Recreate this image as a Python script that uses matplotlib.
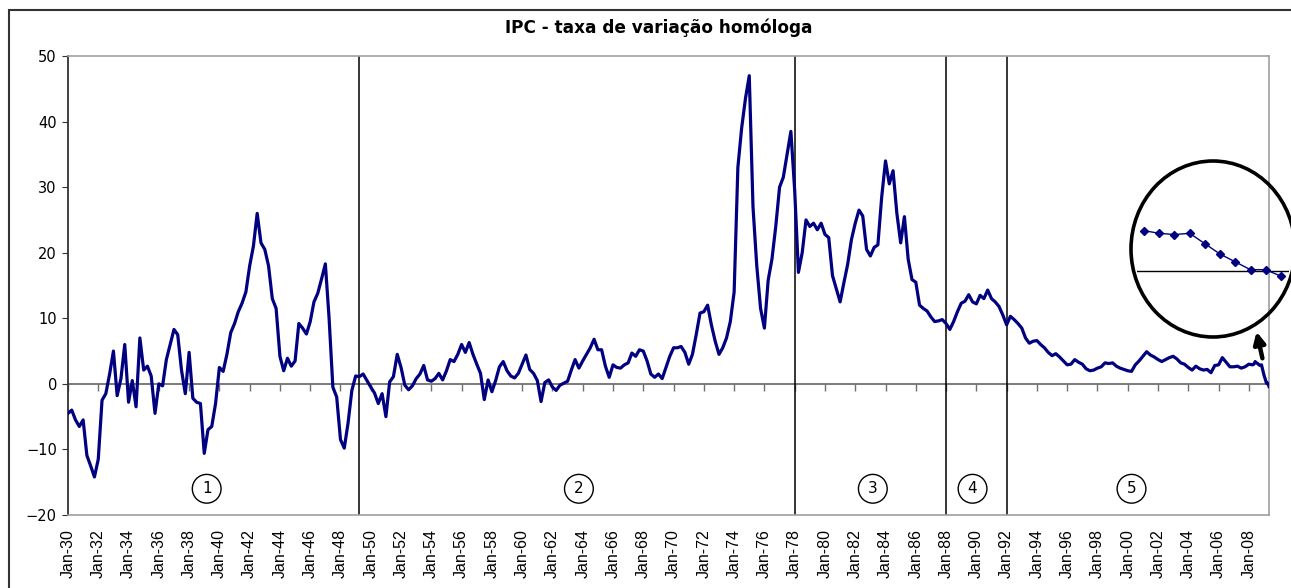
import numpy as np
import pandas as pd
import matplotlib
matplotlib.use("Agg")
import matplotlib.pyplot as plt
from matplotlib.patches import Ellipse, Rectangle

# IPC - taxa de variacao homologa (%), valores trimestrais (Jan, Abr, Jul, Out)
ipc_q = [
    -4.5, -4.0, -5.5, -6.5,    # 1930
    -5.5, -10.9, -12.5, -14.2,  # 1931
    -11.5, -2.5, -1.5, 1.5,    # 1932
    5.0, -1.8, 0.8, 6.0,       # 1933
    -2.8, 0.5, -3.5, 7.0,      # 1934
    2.1, 2.7, 1.2, -4.5,       # 1935
    0.0, -0.3, 3.7, 6.0,       # 1936
    8.3, 7.5, 2.1, -1.5,       # 1937
    4.8, -2.2, -2.8, -3.0,     # 1938
    -10.6, -7.0, -6.5, -3.0,   # 1939
    2.5, 1.9, 4.5, 7.8,        # 1940
    9.2, 11.0, 12.3, 14.0,     # 1941
    18.0, 21.0, 26.0, 21.5,    # 1942
    20.5, 18.0, 13.0, 11.5,    # 1943
    4.2, 2.0, 3.9, 2.7,        # 1944
    3.5, 9.2, 8.5, 7.6,        # 1945
    9.5, 12.5, 13.8, 16.0,     # 1946
    18.3, 10.0, -0.5, -2.0,    # 1947
    -8.5, -9.8, -6.0, -1.0,    # 1948
    1.2, 1.1, 1.5, 0.5,        # 1949
    -0.5, -1.4, -3.0, -1.5,    # 1950
    -5.0, 0.3, 1.1, 4.5,       # 1951
    2.5, -0.2, -0.9, -0.3,     # 1952
    0.8, 1.5, 2.8, 0.6,        # 1953
    0.4, 0.8, 1.6, 0.6,        # 1954
    2.0, 3.7, 3.4, 4.5,        # 1955
    6.0, 4.8, 6.3, 4.5,        # 1956
    3.0, 1.6, -2.4, 0.6,       # 1957
    -1.2, 0.5, 2.6, 3.4,       # 1958
    2.0, 1.2, 0.9, 1.6,        # 1959
    3.0, 4.4, 2.2, 1.6,        # 1960
    0.5, -2.7, 0.2, 0.6,       # 1961
    -0.5, -1.0, -0.2, 0.1,     # 1962
    0.4, 2.1, 3.7, 2.4,        # 1963
    3.5, 4.5, 5.5, 6.8,        # 1964
    5.2, 5.2, 2.7, 1.0,        # 1965
    2.9, 2.5, 2.4, 2.9,        # 1966
    3.2, 4.7, 4.2, 5.2,        # 1967
    5.0, 3.5, 1.5, 1.0,        # 1968
    1.5, 0.8, 2.5, 4.2,        # 1969
    5.5, 5.5, 5.7, 4.8,        # 1970
    3.0, 4.5, 7.5, 10.8,       # 1971
    11.0, 12.0, 9.0, 6.5,      # 1972
    4.5, 5.5, 7.0, 9.5,        # 1973
    14.0, 33.0, 39.0, 43.5,    # 1974
    47.0, 27.0, 18.0, 11.5,    # 1975
    8.5, 15.8, 19.0, 24.0,     # 1976
    30.0, 31.5, 35.0, 38.5,    # 1977
    29.5, 17.0, 20.0, 25.0,    # 1978
    24.0, 24.5, 23.5, 24.5,    # 1979
    22.8, 22.3, 16.5, 14.5,    # 1980
    12.5, 15.4, 18.2, 22.0,    # 1981
    24.5, 26.5, 25.6, 20.5,    # 1982
    19.5, 20.8, 21.2, 28.5,    # 1983
    34.0, 30.5, 32.5, 26.0,    # 1984
    21.5, 25.5, 19.0, 15.9,    # 1985
    15.5, 12.0, 11.5, 11.1,    # 1986
    10.2, 9.5, 9.6, 9.8,       # 1987
    9.2, 8.3, 9.5, 11.0,       # 1988
    12.3, 12.6, 13.6, 12.5,    # 1989
    12.2, 13.5, 13.0, 14.3,    # 1990
    13.0, 12.5, 11.8, 10.5,    # 1991
    9.0, 10.3, 9.8, 9.2,       # 1992
    8.5, 7.0, 6.2, 6.5,        # 1993
    6.6, 6.0, 5.5, 4.8,        # 1994
    4.3, 4.6, 4.1, 3.5,        # 1995
    2.9, 3.0, 3.7, 3.3,        # 1996
    3.0, 2.3, 2.0, 2.1,        # 1997
    2.4, 2.6, 3.2, 3.1,        # 1998
    3.2, 2.7, 2.4, 2.2,        # 1999
    2.0, 1.9, 2.9, 3.5,        # 2000
    4.2, 4.9, 4.4, 4.1,        # 2001
    3.7, 3.4, 3.7, 4.0,        # 2002
    4.2, 3.8, 3.2, 3.0,        # 2003
    2.5, 2.1, 2.7, 2.3,        # 2004
    2.1, 2.2, 1.7, 2.8,        # 2005
    2.9, 4.0, 3.3, 2.6,        # 2006
    2.6, 2.7, 2.4, 2.6,        # 2007
    3.0, 2.9,                  # 2008 (Jan, Abr)
]
# valores mensais Mai-2008 .. Mai-2009
ipc_m = [3.0, 3.4, 3.2, 3.1, 2.9, 2.8, 2.9, 2.1, 1.3, 0.7, 0.1, 0.1, -0.4]

dates_q = pd.date_range("1930-01-01", "2008-04-01", freq="QS")
dates_m = pd.date_range("2008-05-01", "2009-05-01", freq="MS")
dates = dates_q.append(dates_m)
ipc = np.array(ipc_q + ipc_m)

# quebras de regime e etiquetas
breaks = pd.to_datetime(["1949-04-01", "1978-01-01", "1988-01-01", "1992-01-01"])
regimes = ["1", "2", "3", "4", "5"]
regime_pos = pd.to_datetime(["1939-03-01", "1963-10-01", "1983-03-01",
                             "1989-10-01", "2000-04-01"])
tick_dates = pd.date_range("1930-01-01", "2008-01-01", freq="24MS")
tick_labels = [d.strftime("%b-%y") for d in tick_dates]
yticks = [-20, -10, 0, 10, 20, 30, 40, 50]
n_zoom = 10  # pontos mostrados na lupa

W, H = 1291, 588
fig = plt.figure(figsize=(W / 100, H / 100), dpi=100)
ax = fig.add_axes([68 / W, (H - 515) / H, (1269 - 68) / W, (515 - 56) / H])

ax.plot(dates, ipc, color="#000080", lw=2.3, zorder=3)
for b in breaks:
    ax.axvline(b, color="black", lw=1.1, zorder=2)

ax.set_xlim(dates[0], dates[-1])
ax.set_ylim(-20, 50)
ax.set_yticks(yticks)
ax.tick_params(axis="y", direction="out", length=4, color="#333333", labelsize=10.5, pad=4)
ax.set_xticks(tick_dates)
ax.set_xticklabels(tick_labels, rotation=90, fontsize=11.5, family="Liberation Sans")
ax.tick_params(axis="x", length=0, pad=10)

for s in ["top", "right", "bottom"]:
    ax.spines[s].set_color("#a0a0a0")
    ax.spines[s].set_linewidth(1.2)
ax.spines["left"].set_color("#333333")
ax.spines["left"].set_linewidth(1.3)

# eixo horizontal no zero com marcas
sec = ax.secondary_xaxis(20 / 70)
sec.set_xticks(tick_dates)
sec.set_xticklabels([""] * len(tick_dates))
sec.tick_params(axis="x", direction="out", length=5, color="#707070", width=1)
sec.spines["bottom"].set_color("#707070")
sec.spines["bottom"].set_linewidth(1.3)

for lab, d in zip(regimes, regime_pos):
    ax.text(d, -16, lab, ha="center", va="center", fontsize=11, zorder=4,
            bbox=dict(boxstyle="circle,pad=0.45", fc="white", ec="black", lw=1))

fig.text(658.5 / W, 1 - 28 / H, "IPC - taxa de variação homóloga", ha="center",
         va="center", fontsize=12.2, fontweight="bold")

# moldura exterior
fig.add_artist(Rectangle((9 / W, -0.05), 1.1, 1 - 10 / H + 0.05, transform=fig.transFigure,
                         fill=False, ec="#333333", lw=1.5))

# lupa com os ultimos meses
fig.add_artist(Ellipse((1213 / W, 1 - 249 / H), 164 / W, 176 / H, transform=fig.transFigure,
                       fill=False, ec="black", lw=2.6))
axz = fig.add_axes([1137 / W, (H - 300) / H, (1289 - 1137) / W, 90 / H])
axz.axhline(0, color="black", lw=1)
axz.plot(np.arange(n_zoom), ipc[-n_zoom:], color="#000080", lw=1, marker="D", ms=4.5)
axz.set_xlim(-0.46, 9.53)
axz.set_ylim(-2.23, 4.69)
axz.axis("off")

ax.annotate("", xy=(1256, H - 329), xytext=(1263, H - 361), xycoords="figure pixels",
            textcoords="figure pixels", annotation_clip=False,
            arrowprops=dict(arrowstyle="-|>", lw=3.2, color="black", mutation_scale=17))

fig.savefig("out.png", dpi=100)
